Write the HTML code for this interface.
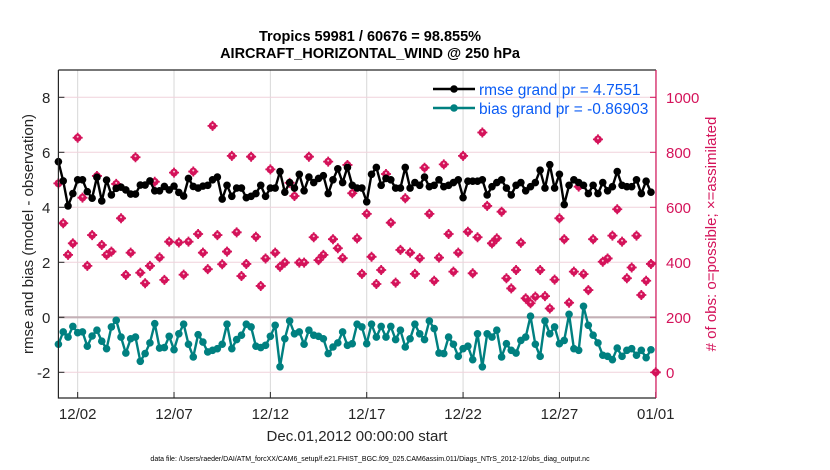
<!DOCTYPE html>
<html><head><meta charset="utf-8"><style>
body{margin:0;background:#fff;}
svg{display:block;font-family:"Liberation Sans",Arial,sans-serif;}
</style></head><body>
<svg id="chart" width="830" height="470" viewBox="0 0 830 470">
<rect width="830" height="470" fill="#fff"/>
<g id="grid"></g>
<g id="series"></g>
<g id="axes"></g>
<text x="370" y="41" text-anchor="middle" font-size="14.5" font-weight="bold" fill="#000">Tropics 59981 / 60676 = 98.855%</text>
<text x="370" y="58" text-anchor="middle" font-size="14.5" font-weight="bold" fill="#000">AIRCRAFT_HORIZONTAL_WIND @ 250 hPa</text>
<text x="357" y="441" text-anchor="middle" font-size="15" fill="#262626">Dec.01,2012 00:00:00 start</text>
<text transform="translate(33,234) rotate(-90)" text-anchor="middle" font-size="15" fill="#262626">rmse and bias (model - observation)</text>
<text transform="translate(716,234) rotate(-90)" text-anchor="middle" font-size="15" fill="#d4135a"># of obs: o=possible; ×=assimilated</text>
<text x="370" y="461" text-anchor="middle" font-size="7" fill="#000">data file: /Users/raeder/DAI/ATM_forcXX/CAM6_setup/f.e21.FHIST_BGC.f09_025.CAM6assim.011/Diags_NTrS_2012-12/obs_diag_output.nc</text>
<g>
<line x1="433" y1="89" x2="475" y2="89" stroke="#000" stroke-width="2.5"/>
<circle cx="454" cy="89" r="3.8" fill="#000"/>
<text x="479" y="95" font-size="15.5" fill="#0b5cf5">rmse grand pr = 4.7551</text>
<line x1="433" y1="108" x2="475" y2="108" stroke="#008080" stroke-width="2.5"/>
<circle cx="454" cy="108" r="3.8" fill="#008080"/>
<text x="479" y="114" font-size="15.5" fill="#0b5cf5">bias grand pr = -0.86903</text>
</g>
</svg>
<script>
const xTickLabels = ["12/02","12/07","12/12","12/17","12/22","12/27","01/01"];
const xTickDays = [1,6,11,16,21,26,31];
const yTicks = [-2,0,2,4,6,8];
const y2Ticks = [0,200,400,600,800,1000];
const rmse = [5.66,4.96,4.05,4.5,5.0,5.0,4.57,4.33,5.09,4.23,4.99,4.45,4.69,4.73,4.63,4.48,4.48,4.81,4.81,4.96,4.6,4.6,4.76,4.63,4.77,4.54,4.41,5.05,4.76,4.7,4.77,
4.8,5.0,5.1,4.3,4.8,4.4,4.7,4.7,4.35,4.4,4.5,4.8,4.4,4.7,4.7,5.3,4.55,4.9,4.7,5.2,4.6,5.1,4.9,5.05,5.15,4.5,5.0,5.4,4.9,5.45,4.8,4.7,
4.7,4.2,5.2,5.45,4.8,5.05,5.0,4.7,4.7,5.45,4.7,4.9,4.8,5.1,4.75,4.8,5.0,4.75,4.8,4.9,5.0,4.35,4.95,4.95,4.95,5.0,4.45,4.75,4.9,5.0,4.7,
4.45,4.8,4.9,4.6,4.75,4.9,5.35,4.7,5.55,4.7,5.2,4.1,4.8,5.0,4.9,4.8,4.5,4.8,4.5,4.9,4.6,4.75,5.3,4.8,4.75,4.75,5.0,4.5,4.95,4.55];
const bias = [-0.98,-0.53,-0.72,-0.33,-0.56,-0.53,-1.05,-0.68,-0.47,-0.87,-1.14,-0.35,-0.11,-0.72,-1.3,-0.78,-0.72,-1.6,-1.32,-0.93,-0.23,-1.12,-1.1,-0.69,-1.18,-0.6,-0.25,-0.98,-1.44,-0.63,-0.9,
-1.26,-1.2,-1.14,-0.98,-0.25,-1.14,-0.81,-0.65,-0.25,-0.35,-1.05,-1.1,-1.02,-0.69,-0.29,-1.8,-0.78,-0.13,-0.6,-0.53,-0.98,-0.47,-0.65,-0.69,-0.78,-1.32,-1.08,-0.93,-0.53,-1.02,-0.96,-0.25,
-0.35,-0.96,-0.25,-0.72,-0.33,-0.72,-0.33,-0.81,-0.47,-1.08,-0.78,-0.25,-0.6,-0.81,-0.13,-0.41,-1.3,-1.32,-0.72,-0.98,-1.42,-1.14,-1.05,-1.54,-0.6,-1.8,-0.6,-0.72,-0.47,-1.44,-0.96,
-1.2,-1.3,-0.84,-0.72,0.04,-0.98,-1.42,-0.13,-0.6,-0.35,-0.96,-0.84,0.11,-1.14,-1.2,0.4,-0.29,-0.65,-0.93,-1.38,-1.42,-1.54,-1.12,-1.42,-1.2,-1.14,-1.38,-1.2,-1.47,-1.18];
const assimilated = [687,542,427,469,853,635,387,499,714,463,427,439,685,560,354,435,782,362,324,387,693,418,336,475,726,472,355,475,730,503,435,
375,896,499,393,439,787,509,350,394,784,493,314,414,738,435,384,399,689,641,399,399,784,491,408,427,766,484,451,415,754,651,487,
358,576,420,321,372,721,544,326,445,633,435,358,415,744,576,333,417,756,503,366,435,787,511,360,491,872,605,469,487,584,342,
305,372,471,269,251,275,372,277,232,337,560,484,253,366,675,357,299,484,847,402,414,497,593,475,342,381,497,281,333,394,0];
const possible = assimilated.slice();
const stepDays = 0.25;

const NS="http://www.w3.org/2000/svg";
const L=58.4,R=656,T=70,B=398;
const xDay=d=>58.4+d*19.27;
const yL=v=>317.3-v*27.5;
const yR=c=>yL(c/100-2);
function mk(tag,attrs,parent){const e=document.createElementNS(NS,tag);for(const k in attrs)e.setAttribute(k,attrs[k]);parent.appendChild(e);return e;}
const grid=document.getElementById('grid'),axes=document.getElementById('axes'),ser=document.getElementById('series');

xTickDays.forEach((d,i)=>{
  const x=xDay(d);
  const g=mk('line',{x1:x,x2:x,y1:T,y2:B,stroke:'#d8d8d8','stroke-width':1},grid);
  
  
  const t=mk('line',{x1:x,x2:x,y1:B,y2:B-6,stroke:'#262626','stroke-width':1},axes);
  
  
  const tx=mk('text',{x:x,y:B+21,'text-anchor':'middle','font-size':15,fill:'#262626'},axes);
  tx.textContent=xTickLabels[i];
  
  
});
yTicks.forEach(v=>{
  const y=yL(v);
  if(v!==0){const g=mk('line',{x1:L,x2:R,y1:y,y2:y,stroke:'#f0d2dc','stroke-width':1},grid);
  
  }
  const t=mk('line',{x1:L,x2:L+6,y1:y,y2:y,stroke:'#262626','stroke-width':1},axes);
  
  
  const tx=mk('text',{x:L-8,y:y+5.5,'text-anchor':'end','font-size':15,fill:'#262626'},axes);
  tx.textContent=v;
  
  
});
const z=mk('line',{x1:L,x2:R,y1:yL(0),y2:yL(0),stroke:'#c4b0b6','stroke-width':2.2},grid);


y2Ticks.forEach(c=>{
  const y=yR(c);
  const t=mk('line',{x1:R,x2:R-6,y1:y,y2:y,stroke:'#d4135a','stroke-width':1},axes);
  
  
  const tx=mk('text',{x:R+10,y:y+5.5,'font-size':15,fill:'#d4135a'},axes);
  tx.textContent=c;
  
  
});
const ax=mk('path',{d:`M${L},${T}V${B}H${R}`,fill:'none',stroke:'#262626','stroke-width':1.2},axes);


const tl=mk('line',{x1:L,x2:R,y1:T,y2:T,stroke:'#262626','stroke-width':1.2},axes);


const ra=mk('line',{x1:R,x2:R,y1:T,y2:B,stroke:'#d4135a','stroke-width':1.2},axes);



assimilated.forEach((c,i)=>{
  const x=xDay(i*stepDays),y=yR(c);
  const g=mk('g',{},ser);
  
  
  mk('circle',{cx:x,cy:y,r:3.9,fill:'#d4135a'},g);
  mk('path',{d:`M${x-5},${y}H${x+5}M${x},${y-5}V${y+5}`,stroke:'#d4135a','stroke-width':1.8},g);
  const p=mk('circle',{cx:x,cy:yR(possible[i])-1,r:1,fill:'#f6c0d2'},ser);
  
  
});
function line(vals,color,name){
  const d=vals.map((v,i)=>(i?'L':'M')+xDay(i*stepDays).toFixed(1)+','+yL(v).toFixed(1)).join('');
  const p=mk('path',{d:d,fill:'none',stroke:color,'stroke-width':2.4,'stroke-linejoin':'round'},ser);
  
  
  vals.forEach((v,i)=>{
    const c=mk('circle',{cx:xDay(i*stepDays),cy:yL(v),r:3.8,fill:color},ser);
    
    
  });
}
line(rmse,'#000','rmse');
line(bias,'#008080','bias');
</script>
</body></html>
